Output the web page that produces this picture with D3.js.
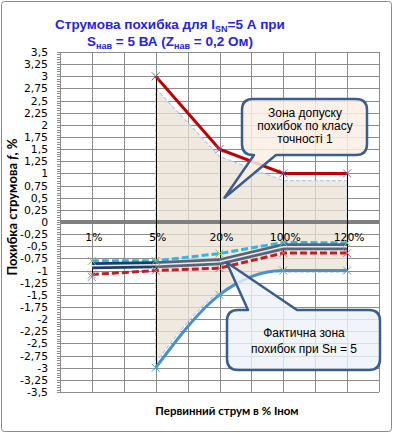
<!DOCTYPE html>
<html>
<head>
<meta charset="utf-8">
<script src="https://cdn.jsdelivr.net/npm/d3@7"></script>
<style>
  body { margin: 0; background: #fff; }
  svg { display: block; }
</style>
</head>
<body>
<div id="chart"></div>
<script>
// chart data
const categories = ["1%", "5%", "20%", "100%", "120%"];
const upperLimit = [null, 3, 1.5, 1, 1];
const lowerLimit = [-1.13, -3, -1.5, -1, -1];
const zoneTop = [null, 2.75, 1.35, 0.85, 0.85];
const zoneBottom = [null, -2.9, -1.45, -1.03, -1.03];
const errHigh = [-0.8, -0.8, -0.65, -0.42, -0.43];
const errMid = [-0.9, -0.88, -0.82, -0.51, -0.51];
const errLow = [-1.08, -1.0, -0.95, -0.64, -0.64];
const yTicks = d3.range(-3.5, 3.501, 0.25);

const width = 394;
const height = 433;
const plot = { left: 60, right: 379, top: 52, bottom: 392 };

const colors = {
  grid: "#8c8c8c",
  upper: "#c00000",
  lower: "#4a90c8",
  high: "#35b5e5",
  low: "#c41e24",
  mid: "#596577",
  midFirst: "#1f3c66",
  callout: "#3a5d8e",
  title: "#2323e6"
};

const svg = d3.select("#chart").append("svg")
  .attr("width", width)
  .attr("height", height);

// outer border
svg.append("rect")
  .attr("x", 1.5).attr("y", 1.5)
  .attr("width", 390).attr("height", 430)
  .attr("rx", 3)
  .attr("fill", "#fff")
  .attr("stroke", "#8a8a8a");

const x = d3.scalePoint()
  .domain(categories)
  .range([plot.left, plot.right])
  .padding(0.5);
const step = x.step();

const y = d3.scaleLinear()
  .domain([-3.5, 3.5])
  .range([plot.bottom, plot.top]);

const fmt = function(d) {
  return String(+d.toFixed(2)).replace(".", ",");
};

// grid
const grid = svg.append("g");
grid.selectAll(".hgrid")
  .data(yTicks)
  .enter().append("line")
  .attr("x1", plot.left).attr("x2", plot.right)
  .attr("y1", d => Math.round(y(d)) + 0.5)
  .attr("y2", d => Math.round(y(d)) + 0.5)
  .attr("stroke", colors.grid);

const vlines = [];
categories.forEach(function(c) {
  vlines.push(x(c) - step / 2);
  vlines.push(x(c));
});
vlines.push(plot.right);
grid.selectAll(".vgrid")
  .data(vlines)
  .enter().append("line")
  .attr("x1", d => Math.round(d) + 0.5).attr("x2", d => Math.round(d) + 0.5)
  .attr("y1", plot.top).attr("y2", plot.bottom)
  .attr("stroke", colors.grid);

function pts(values, from, to) {
  return categories.map((c, i) => ({ c: c, v: values[i], i: i }))
    .filter(d => d.v != null && d.i >= from && d.i <= to);
}

// tolerance zone: straight top edge, smoothed bottom edge
const topPath = d3.line().x(d => x(d.c)).y(d => y(d.v))(pts(zoneTop, 1, 4));
const bottomPts = pts(zoneBottom, 1, 4).reverse();
const bottomPath = d3.line().x(d => x(d.c)).y(d => y(d.v)).curve(d3.curveMonotoneX)(bottomPts);
svg.append("path")
  .attr("d", topPath + "L" + bottomPath.slice(1) + "Z")
  .attr("fill", "#e9e2d5")
  .attr("fill-opacity", 0.75)
  .attr("stroke", "#b8cbe8")
  .attr("stroke-width", 1.2)
  .attr("stroke-dasharray", "4,2");

// zero line
svg.append("line")
  .attr("x1", plot.left).attr("x2", plot.right)
  .attr("y1", y(0)).attr("y2", y(0))
  .attr("stroke", "#7f7f7f")
  .attr("stroke-width", 4);

// y axis with minor ticks
const yAxis = svg.append("g");
yAxis.append("line")
  .attr("x1", plot.left + 0.5).attr("x2", plot.left + 0.5)
  .attr("y1", plot.top).attr("y2", plot.bottom)
  .attr("stroke", colors.grid);
yAxis.selectAll(".minor")
  .data(d3.range(-3.5, 3.501, 0.05))
  .enter().append("line")
  .attr("x1", plot.left - 3).attr("x2", plot.left)
  .attr("y1", d => Math.round(y(d)) + 0.5)
  .attr("y2", d => Math.round(y(d)) + 0.5)
  .attr("stroke", colors.grid);
yAxis.selectAll("text")
  .data(yTicks)
  .enter().append("text")
  .attr("x", 48)
  .attr("y", d => y(d) + 4)
  .attr("text-anchor", "end")
  .attr("font-family", "DejaVu Sans")
  .attr("font-size", 10.8)
  .text(fmt);

// category labels on the zero line
svg.selectAll(".cat")
  .data(categories)
  .enter().append("text")
  .attr("x", d => x(d) + 2)
  .attr("y", y(0) + 19)
  .attr("text-anchor", "middle")
  .attr("font-family", "DejaVu Sans")
  .attr("font-size", 10.8)
  .text(d => d);

// high-low lines
const allSeries = [upperLimit, lowerLimit, errHigh, errMid, errLow];
svg.append("g").selectAll("line")
  .data(categories)
  .enter().append("line")
  .attr("x1", d => Math.round(x(d)) + 0.5)
  .attr("x2", d => Math.round(x(d)) + 0.5)
  .attr("y1", (d, i) => y(d3.max(allSeries, s => s[i])))
  .attr("y2", (d, i) => y(d3.min(allSeries, s => s[i])))
  .attr("stroke", "#000");

const line = d3.line().x(d => x(d.c)).y(d => y(d.v));

// limit lines
svg.append("path")
  .datum(pts(upperLimit, 1, 4))
  .attr("d", line)
  .attr("fill", "none")
  .attr("stroke", colors.upper)
  .attr("stroke-width", 3);

svg.append("path")
  .datum(pts(lowerLimit, 1, 4))
  .attr("d", d3.line().x(d => x(d.c)).y(d => y(d.v)).curve(d3.curveMonotoneX))
  .attr("fill", "none")
  .attr("stroke", colors.lower)
  .attr("stroke-width", 3);

// measured error lines
svg.append("path")
  .datum(pts(errHigh, 0, 4))
  .attr("d", line)
  .attr("fill", "none")
  .attr("stroke", colors.high)
  .attr("stroke-width", 3)
  .attr("stroke-dasharray", "7,3");

svg.append("path")
  .datum(pts(errLow, 0, 4))
  .attr("d", line)
  .attr("fill", "none")
  .attr("stroke", colors.low)
  .attr("stroke-width", 3)
  .attr("stroke-dasharray", "7,3");

// compound (double) line for the mean error
[[0, 1, colors.midFirst], [1, 4, colors.mid]].forEach(function(seg) {
  const p = svg.append("g");
  p.append("path")
    .datum(pts(errMid, seg[0], seg[1]))
    .attr("d", line)
    .attr("fill", "none")
    .attr("stroke", seg[2])
    .attr("stroke-width", 7);
  p.append("path")
    .datum(pts(errMid, seg[0], seg[1]))
    .attr("d", line)
    .attr("fill", "none")
    .attr("stroke", "#e8ecf2")
    .attr("stroke-width", 1.5);
});

// x markers
function markers(values, color) {
  svg.append("g").selectAll("path")
    .data(pts(values, 0, 4))
    .enter().append("path")
    .attr("d", function(d) {
      const cx = x(d.c), cy = y(d.v), s = 4;
      return "M" + (cx - s) + "," + (cy - s) + "L" + (cx + s) + "," + (cy + s) +
        "M" + (cx - s) + "," + (cy + s) + "L" + (cx + s) + "," + (cy - s);
    })
    .attr("stroke", color)
    .attr("stroke-width", 1)
    .attr("fill", "none");
}
markers(upperLimit, "#8064a2");
markers(lowerLimit, "#4bacc6");
markers(errHigh, "#9bbb59");
markers(errLow, "#f06060");

// callouts
function callout(bx, by, bw, bh, r, side, t1, t2, tip) {
  let p = "M" + (bx + r) + "," + by;
  if (side == "top") {
    p += "L" + t1 + "," + by + "L" + tip[0] + "," + tip[1] + "L" + t2 + "," + by;
  }
  p += "L" + (bx + bw - r) + "," + by +
    "Q" + (bx + bw) + "," + by + " " + (bx + bw) + "," + (by + r) +
    "L" + (bx + bw) + "," + (by + bh - r) +
    "Q" + (bx + bw) + "," + (by + bh) + " " + (bx + bw - r) + "," + (by + bh);
  if (side == "bottom") {
    p += "L" + t2 + "," + (by + bh) + "L" + tip[0] + "," + tip[1] + "L" + t1 + "," + (by + bh);
  }
  p += "L" + (bx + r) + "," + (by + bh) +
    "Q" + bx + "," + (by + bh) + " " + bx + "," + (by + bh - r) +
    "L" + bx + "," + (by + r) +
    "Q" + bx + "," + by + " " + (bx + r) + "," + by + "Z";
  return p;
}

svg.append("path")
  .attr("d", callout(242, 99, 125, 56, 11, "bottom", 254, 276, [x("20%") + 5, y(0.5)]))
  .attr("fill", "#fcefe4")
  .attr("fill-opacity", 0.85)
  .attr("stroke", colors.callout)
  .attr("stroke-width", 2.5)
  .attr("stroke-linejoin", "round");

svg.append("path")
  .attr("d", callout(227, 310, 153, 60, 11, "top", 248, 297, [x("20%") + 7, y(-0.83)]))
  .attr("fill", "#edf2f8")
  .attr("fill-opacity", 0.8)
  .attr("stroke", colors.callout)
  .attr("stroke-width", 2.5)
  .attr("stroke-linejoin", "round");

const calloutText = [
  { x: 305, y: 117, t: "Зона допуску" },
  { x: 305, y: 130, t: "похибок по класу" },
  { x: 305, y: 143, t: "точності 1" },
  { x: 304, y: 337, t: "Фактична зона" },
  { x: 304, y: 353, t: "похибок при  Sн = 5" }
];
svg.selectAll(".ct")
  .data(calloutText)
  .enter().append("text")
  .attr("x", d => d.x)
  .attr("y", d => d.y)
  .attr("text-anchor", "middle")
  .attr("font-family", "Liberation Sans")
  .attr("font-size", 12)
  .text(d => d.t);

// title
const title = svg.append("text")
  .attr("x", 170)
  .attr("text-anchor", "middle")
  .attr("font-family", "Liberation Sans")
  .attr("font-weight", "bold")
  .attr("font-size", 13.5)
  .attr("fill", colors.title);
const t1 = title.append("tspan").attr("x", 170).attr("y", 29);
t1.append("tspan").text("Струмова  похибка для I");
t1.append("tspan").attr("font-size", 9).attr("dy", 3).text("SN");
t1.append("tspan").attr("dy", -3).text("=5 А  при");
const t2 = svg.append("text")
  .attr("x", 170)
  .attr("y", 46)
  .attr("text-anchor", "middle")
  .attr("font-family", "Liberation Sans")
  .attr("font-weight", "bold")
  .attr("font-size", 13.5)
  .attr("fill", colors.title);
t2.append("tspan").text("S");
t2.append("tspan").attr("font-size", 9).attr("dy", 3).text("нав");
t2.append("tspan").attr("dy", -3).text(" = 5 ВА  (Z");
t2.append("tspan").attr("font-size", 9).attr("dy", 3).text("нав");
t2.append("tspan").attr("dy", -3).text("  = 0,2 Ом)");

// axis titles
const yTitle = svg.append("text")
  .attr("transform", "translate(17,207) rotate(-90)")
  .attr("text-anchor", "middle")
  .attr("font-family", "Lato")
  .attr("font-weight", "bold")
  .attr("font-size", 13);
yTitle.append("tspan").text("Похибка струмова  ");
yTitle.append("tspan").attr("font-style", "italic").text("f");
yTitle.append("tspan").text(", %");

svg.append("text")
  .attr("x", 227)
  .attr("y", 415)
  .attr("text-anchor", "middle")
  .attr("font-family", "Lato")
  .attr("font-weight", "bold")
  .attr("font-size", 11.5)
  .text("Первинний  струм в % Іном");
</script>
</body>
</html>
